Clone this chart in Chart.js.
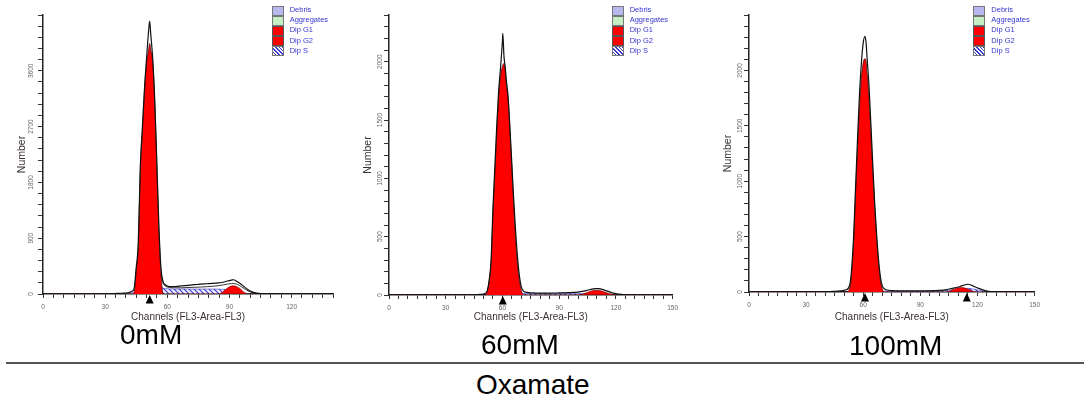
<!DOCTYPE html>
<html>
<head>
<meta charset="utf-8">
<script src="https://cdn.jsdelivr.net/npm/chart.js@4.4.1/dist/chart.umd.min.js"></script>
<style>
  body { margin:0; background:#fff; width:1084px; height:403px; position:relative; overflow:hidden; font-family:"Liberation Sans", Arial, sans-serif; }
  canvas { position:absolute; top:0; }
  .legend { position:absolute; top:5px; font-size:7.5px; color:#3535d0; }
  .legend div { height:10.2px; line-height:10.2px; position:relative; padding-left:18px; white-space:nowrap; }
  .legend span { position:absolute; left:0; top:0.5px; width:10px; height:8px; border:1px solid #777; box-sizing:content-box; }
  .dose { position:absolute; font-size:28px; line-height:28px; color:#000; white-space:nowrap; }
  .rule { position:absolute; left:6px; right:0; top:362px; height:2px; background:#555; }
</style>
</head>
<body>
<canvas id="c0" width="343" height="330" style="left:0px"></canvas>
<canvas id="c1" width="337" height="330" style="left:346px"></canvas>
<canvas id="c2" width="339" height="330" style="left:706px"></canvas>
<div class="rule"></div>
<script>
// texte
const legendLabels = ['Debris', 'Aggregates', 'Dip G1', 'Dip G2', 'Dip S'];
const doseLabels = ['0mM', '60mM', '100mM'];
const groupLabel = 'Oxamate';
const xTitle = 'Channels (FL3-Area-FL3)';
const yTitle = 'Number';

// axes
const xMax = [140, 150, 150];
const yMax = [4500, 2400, 2500];
const yMajor = [900, 500, 500];
const yMinor = [180, 100, 100];
const xMajor = 30;
const xMinor = 5;

// 0mM
const ch0mM  = [0, 30, 34, 38, 41, 43, 44, 45, 46, 47, 48, 49, 50, 51, 51.5, 52, 53, 54, 55, 56, 57, 58, 59, 61, 64, 67, 70, 73, 76, 79, 82, 85, 87, 89, 91, 92, 93, 95, 97, 99, 101, 103, 106, 110, 120, 140];
const raw0mM = [0, 0, 8, 12, 20, 45, 90, 430, 830, 2080, 2700, 3320, 3800, 4250, 4400, 4200, 3780, 3080, 2080, 1050, 400, 200, 150, 120, 120, 130, 140, 150, 160, 165, 170, 180, 190, 210, 225, 230, 215, 175, 120, 70, 35, 15, 6, 2, 0, 0];
const fit0mM = [null, null, null, null, null, null, null, null, null, null, null, null, null, null, null, null, null, null, null, null, 330, 170, 130, 105, 100, 100, 105, 108, 112, 118, 125, 135, 148, 160, 168, 170, 165, 135, 90, 50, 22, 9, 3, 0, 0, 0];
const g1_0mM = [0, 0, 0, 0, 0, 0, 30, 380, 760, 2010, 2640, 3270, 3730, 3940, 4040, 3940, 3730, 3040, 2010, 975, 300, 0, 0, 0, 0, 0, 0, 0, 0, 0, 0, 0, 0, 0, 0, 0, 0, 0, 0, 0, 0, 0, 0, 0, 0, 0];
const g2_0mM = [0, 0, 0, 0, 0, 0, 0, 0, 0, 0, 0, 0, 0, 0, 0, 0, 0, 0, 0, 0, 0, 0, 0, 0, 0, 0, 0, 0, 0, 0, 0, 0, 40, 95, 130, 132, 125, 90, 30, 0, 0, 0, 0, 0, 0, 0];
const s0mM   = [0, 0, 0, 0, 0, 0, 0, 0, 0, 0, 20, 50, 80, 100, 105, 110, 115, 118, 118, 115, 105, 95, 88, 82, 80, 80, 80, 80, 80, 80, 80, 78, 75, 70, 60, 55, 48, 30, 12, 3, 0, 0, 0, 0, 0, 0];
const debris0mM = [0, 0, 0, 0, 10, 25, 30, 30, 28, 25, 20, 15, 10, 5, 3, 0, 0, 0, 0, 0, 0, 0, 0, 0, 0, 0, 0, 0, 0, 0, 0, 0, 0, 0, 0, 0, 0, 0, 0, 0, 0, 0, 0, 0, 0, 0];
const marks0mM = [51.5];

// 60mM
const ch60mM  = [0, 45, 48, 51, 52, 53, 54, 55, 56, 57, 58, 59, 60, 60.2, 60.8, 61.5, 62, 63, 64, 65, 66, 67, 68, 69, 70, 71, 73, 76, 80, 85, 90, 95, 100, 103, 106, 109, 111, 114, 117, 120, 123, 127, 150];
const raw60mM = [0, 0, 5, 15, 40, 130, 300, 750, 1100, 1450, 1750, 1950, 2180, 2243, 2050, 1950, 1850, 1700, 1420, 1120, 810, 540, 320, 160, 70, 35, 22, 18, 16, 16, 18, 20, 25, 33, 45, 55, 55, 42, 25, 12, 5, 0, 0];
const g1_60mM = [0, 0, 0, 0, 30, 120, 280, 700, 1050, 1400, 1700, 1880, 1960, 1970, 1985, 1930, 1820, 1680, 1400, 1080, 760, 480, 260, 120, 40, 0, 0, 0, 0, 0, 0, 0, 0, 0, 0, 0, 0, 0, 0, 0, 0, 0, 0];
const g2_60mM = [0, 0, 0, 0, 0, 0, 0, 0, 0, 0, 0, 0, 0, 0, 0, 0, 0, 0, 0, 0, 0, 0, 0, 0, 0, 0, 0, 0, 0, 0, 0, 0, 0, 10, 28, 40, 40, 25, 10, 0, 0, 0, 0];
const s60mM   = [0, 0, 0, 0, 0, 0, 0, 0, 0, 0, 0, 0, 0, 0, 0, 3, 6, 10, 12, 14, 15, 15, 15, 14, 14, 13, 13, 12, 12, 12, 12, 12, 12, 11, 9, 6, 5, 3, 1, 0, 0, 0, 0];
const marks60mM = [60.2];

// 100mM
const ch100mM  = [0, 40, 44, 48, 51, 53, 54, 55, 56, 57, 58, 59, 60, 60.9, 61.5, 62, 63, 64, 65, 66, 67, 68, 69, 70, 71, 72, 75, 80, 90, 100, 104, 106, 108, 110, 112, 114, 115, 117, 118, 121, 124, 127, 130, 150];
const raw100mM = [0, 0, 5, 10, 20, 70, 230, 520, 960, 1380, 1770, 2060, 2250, 2308, 2250, 2120, 1870, 1520, 1160, 810, 530, 300, 140, 55, 30, 20, 12, 10, 10, 14, 22, 30, 38, 45, 58, 68, 70, 60, 52, 30, 12, 4, 0, 0];
const g1_100mM = [0, 0, 0, 0, 0, 40, 200, 470, 900, 1280, 1650, 1930, 2070, 2106, 2080, 1980, 1760, 1440, 1100, 770, 500, 270, 110, 30, 0, 0, 0, 0, 0, 0, 0, 0, 0, 0, 0, 0, 0, 0, 0, 0, 0, 0, 0, 0];
const g2_100mM = [0, 0, 0, 0, 0, 0, 0, 0, 0, 0, 0, 0, 0, 0, 0, 0, 0, 0, 0, 0, 0, 0, 0, 0, 0, 0, 0, 0, 0, 0, 0, 12, 28, 38, 40, 32, 26, 10, 4, 0, 0, 0, 0, 0];
const s100mM   = [0, 0, 0, 0, 0, 0, 0, 0, 0, 0, 0, 0, 0, 0, 0, 0, 3, 5, 6, 7, 8, 8, 8, 8, 8, 8, 8, 8, 8, 10, 14, 17, 20, 24, 28, 32, 33, 30, 26, 15, 5, 0, 0, 0];
const marks100mM = [60.9, 114.4];

const panels = [
  {ch: ch0mM, raw: raw0mM, fit: fit0mM, g1: g1_0mM, g2: g2_0mM, s: s0mM, debris: debris0mM, marks: marks0mM},
  {ch: ch60mM, raw: raw60mM, fit: null, g1: g1_60mM, g2: g2_60mM, s: s60mM, debris: null, marks: marks60mM},
  {ch: ch100mM, raw: raw100mM, fit: null, g1: g1_100mM, g2: g2_100mM, s: s100mM, debris: null, marks: marks100mM}
];

// placement of each histogram (canvas px)
const boxes = [
  {yW: 43, xH: 36, tickPad: -0.5, legendLeft: 271.7, doseLeft: 120, doseTop: 321},
  {yW: 43, xH: 35, tickPad: -3, legendLeft: 611.7, doseLeft: 481, doseTop: 331},
  {yW: 43, xH: 38, tickPad: -3, legendLeft: 973.3, doseLeft: 849, doseTop: 332}
];

Chart.defaults.font.family = '"Liberation Sans", Arial, sans-serif';

function makeHatch() {
  const c = document.createElement('canvas');
  c.width = 5; c.height = 5;
  const g = c.getContext('2d');
  g.fillStyle = '#eeeefc';
  g.fillRect(0, 0, 5, 5);
  g.strokeStyle = '#3a3ad0';
  g.lineWidth = 1.1;
  g.beginPath();
  g.moveTo(-1, -1); g.lineTo(6, 6);
  g.moveTo(-1, 4); g.lineTo(1, 6);
  g.moveTo(4, -1); g.lineTo(6, 1);
  g.stroke();
  return g.createPattern(c, 'repeat');
}
const hatch = makeHatch();

const toXY = (ch, arr) => ch.map((c, i) => ({x: c, y: arr[i]}));

// little black triangles under the axis
const arrowPlugin = {
  id: 'arrows',
  afterDraw(chart, args, opts) {
    const {ctx, scales: {x, y}} = chart;
    const base = y.getPixelForValue(0);
    ctx.save();
    ctx.fillStyle = '#000';
    opts.marks.forEach(m => {
      const px = x.getPixelForValue(m);
      ctx.beginPath();
      ctx.moveTo(px, base + 1);
      ctx.lineTo(px - 4, base + 9.5);
      ctx.lineTo(px + 4, base + 9.5);
      ctx.closePath();
      ctx.fill();
    });
    ctx.restore();
  }
};

panels.forEach((p, i) => {
  const b = boxes[i];
  const datasets = [
    {label: 'raw', data: toXY(p.ch, p.raw), borderColor: '#111', borderWidth: 1.2, fill: false}
  ];
  if (p.fit) datasets.push({label: 'fit', data: toXY(p.ch, p.fit), borderColor: '#222', borderWidth: 0.9, fill: false});
  datasets.push(
    {label: 'Dip G1', data: toXY(p.ch, p.g1), borderColor: '#400', borderWidth: 0.7, backgroundColor: '#ff0000', fill: 'origin'},
    {label: 'Dip G2', data: toXY(p.ch, p.g2), borderColor: '#600', borderWidth: 0.6, backgroundColor: '#ff0000', fill: 'origin'},
    {label: 'Dip S', data: toXY(p.ch, p.s), borderColor: '#3a3ad0', borderWidth: 0.6, backgroundColor: hatch, fill: 'origin'}
  );
  if (p.debris) datasets.push({label: 'Debris', data: toXY(p.ch, p.debris), borderColor: '#9a9ad8', borderWidth: 0.5, backgroundColor: '#bcbcf2', fill: 'origin'});

  new Chart(document.getElementById('c' + i), {
    type: 'line',
    data: {datasets: datasets},
    plugins: [arrowPlugin],
    options: {
      responsive: false,
      animation: false,
      events: [],
      layout: {padding: {left: 0, right: 10, top: 15, bottom: 0}},
      elements: {point: {radius: 0}, line: {cubicInterpolationMode: 'monotone'}},
      plugins: {
        legend: {display: false},
        tooltip: {enabled: false},
        arrows: {marks: p.marks}
      },
      scales: {
        x: {
          type: 'linear', min: 0, max: xMax[i],
          afterFit: s => { s.height = b.xH; },
          border: {color: '#222', width: 1.5},
          grid: {drawOnChartArea: false, drawTicks: true, tickLength: 4, color: '#333'},
          ticks: {
            stepSize: xMinor, autoSkip: false, maxRotation: 0, padding: 5,
            font: {size: 6.5}, color: '#666',
            callback: v => v % xMajor === 0 ? String(v) : ''
          },
          title: {display: true, text: xTitle, font: {size: 10}, color: '#3a3030', padding: {top: 0, bottom: 7}}
        },
        y: {
          type: 'linear', min: 0, max: yMax[i],
          afterFit: s => { s.width = b.yW; },
          border: {color: '#222', width: 1.5},
          grid: {drawOnChartArea: false, drawTicks: true, tickLength: 5, color: '#333'},
          ticks: {
            stepSize: yMinor[i], autoSkip: false, minRotation: 90, maxRotation: 90,
            crossAlign: 'center', padding: b.tickPad,
            font: {size: 6.5}, color: '#666',
            callback: v => (v % yMajor[i] === 0 && v < yMax[i]) ? String(v) : ''
          },
          title: {display: true, text: yTitle, font: {size: 10.5}, color: '#3a3030', padding: {top: 15.4, bottom: 0}}
        }
      }
    }
  });

  // legend in the upper right corner
  const lg = document.createElement('div');
  lg.className = 'legend';
  lg.style.left = b.legendLeft + 'px';
  const swatch = {
    'Debris': 'background:#b8b8ee',
    'Aggregates': 'background:#c4f0c4',
    'Dip G1': 'background:#f00;border-color:#555',
    'Dip G2': 'background:#f00;border-color:#555',
    'Dip S': 'background:repeating-linear-gradient(45deg,#fff 0 1.6px,#3a3ad0 1.6px 2.6px)'
  };
  legendLabels.forEach(t => {
    const row = document.createElement('div');
    row.innerHTML = '<span style="' + swatch[t] + '"></span>' + t;
    lg.appendChild(row);
  });
  document.body.appendChild(lg);

  const d = document.createElement('div');
  d.className = 'dose';
  d.style.left = b.doseLeft + 'px';
  d.style.top = b.doseTop + 'px';
  d.textContent = doseLabels[i];
  document.body.appendChild(d);
});

const g = document.createElement('div');
g.className = 'dose';
g.style.left = '476px';
g.style.top = '371px';
g.textContent = groupLabel;
document.body.appendChild(g);
</script>
</body>
</html>
